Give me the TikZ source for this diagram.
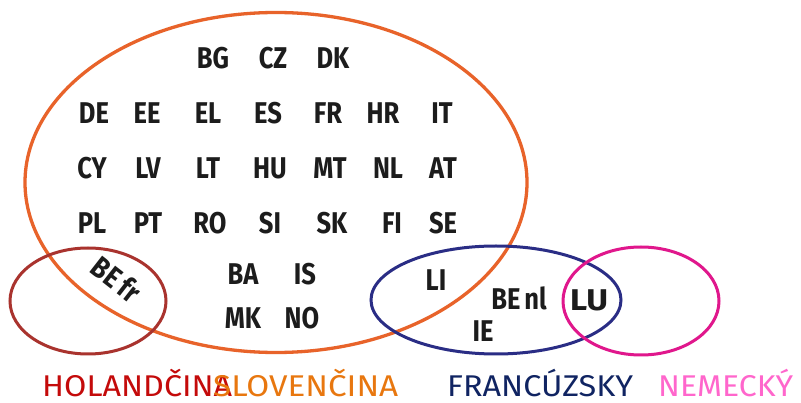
\documentclass[tikz,border=0pt]{standalone}
\usepackage{fontspec}
\usepackage{graphicx}
\setmainfont{Fira Sans}
\newfontfamily\codefont[FakeStretch=0.85]{Fira Sans Bold}
\newfontfamily\labfont{Fira Sans}
\definecolor{corange}{HTML}{E8632A}
\definecolor{cred}{HTML}{A9332E}
\definecolor{cblue}{HTML}{2A2D85}
\definecolor{cmag}{HTML}{E0178C}
\definecolor{tred}{HTML}{C40A0A}
\definecolor{torange}{HTML}{E8770F}
\definecolor{tblue}{HTML}{102462}
\definecolor{tpink}{HTML}{FF66CC}
\definecolor{tcode}{HTML}{1C1C1C}
\newcommand{\fitw}[2]{\resizebox{#1}{\height}{#2}}
\begin{document}
\begin{tikzpicture}[x=1pt,y=-1pt,
  code/.style={inner sep=0pt, text=tcode, font=\codefont\fontsize{30}{30}\selectfont},
  lab/.style={inner sep=0pt, anchor=base west, font=\labfont\fontsize{30}{30}\selectfont},
  ring/.style={line width=3pt}]
\useasboundingbox (0,0) rectangle (801,403);
\fill[white] (0,0) rectangle (801,403);
% ellipses
\draw[ring, corange, line width=3.3pt] (276,182.5) ellipse [x radius=251, y radius=170];
\draw[ring, cred] (88,301) ellipse [x radius=78, y radius=53];
\draw[ring, cblue] (496,300) ellipse [x radius=125, y radius=54];
\draw[ring, cmag] (641,301) ellipse [x radius=78, y radius=54];
% row 1
\node[code] (bg) at (213,58) {BG};
\node[code] (cz) at (273,58) {CZ};
\node[code] (dk) at (333,58) {DK};
% row 2
\node[code] (de) at (94,113) {DE};
\node[code] (ee) at (147,113) {EE};
\node[code] (el) at (208,113) {EL};
\node[code] (es) at (268,113) {ES};
\node[code] (fr) at (328,113) {FR};
\node[code] (hr) at (383,113) {HR};
\node[code] (it) at (442,113) {IT};
% row 3
\node[code] (cy) at (92,168) {CY};
\node[code] (lv) at (148,168) {LV};
\node[code] (lt) at (208,168) {LT};
\node[code] (hu) at (270,168) {HU};
\node[code] (mt) at (330,168) {MT};
\node[code] (nl) at (388,168) {NL};
\node[code] (at) at (443,168) {AT};
% row 4
\node[code] (pl) at (92,223) {PL};
\node[code] (pt) at (148,223) {PT};
\node[code] (ro) at (210,223) {RO};
\node[code] (si) at (270,223) {SI};
\node[code] (sk) at (332,223) {SK};
\node[code] (fi) at (392,223) {FI};
\node[code] (se) at (443,223) {SE};
% lower group
\node[code] (ba) at (243,274) {BA};
\node[code] (is) at (305,274) {IS};
\node[code] (mk) at (243,318) {MK};
\node[code] (no) at (302,318) {NO};
\node[code, rotate=-38] (befr) at (117,279) {BE\hspace{5pt}fr};
\node[code] (li) at (436,280) {LI};
\node[code] (benl) at (519,298) {BE\hspace{4pt}nl};
\node[code] (ie) at (483,331) {IE};
\node[code] (lu) at (589,300) {\fitw{38pt}{LU}};
% bottom labels
\node[lab, text=tred] (hol) at (42,397) {\fitw{190pt}{HOLANDČINA}};
\node[lab, text=torange] (slo) at (213,397) {\fitw{185pt}{SLOVENČINA}};
\node[lab, text=tblue] (fra) at (447,397) {\fitw{186pt}{FRANCÚZSKY}};
\node[lab, text=tpink] (nem) at (658,397) {\fitw{135pt}{NEMECKÝ}};
\end{tikzpicture}
\end{document}
